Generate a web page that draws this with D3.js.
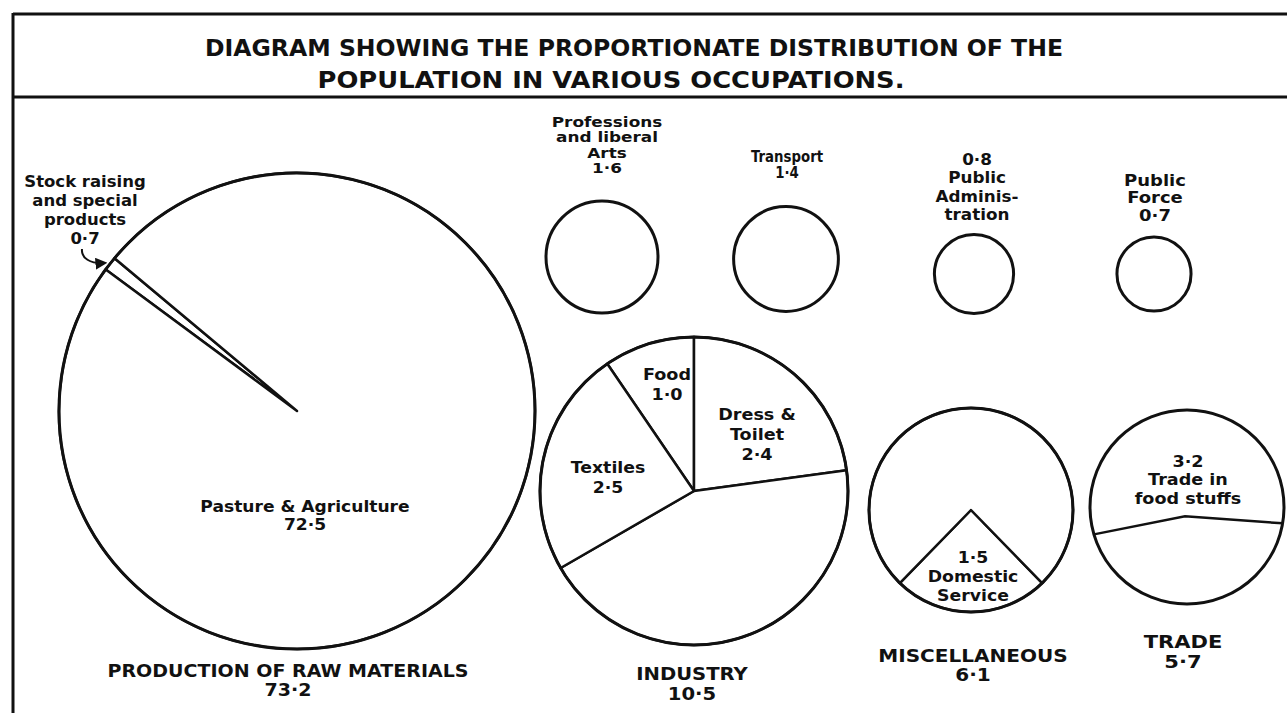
<!DOCTYPE html>
<html>
<head>
<meta charset="utf-8">
<script src="https://cdn.jsdelivr.net/npm/d3@7"></script>
<style>
body { margin: 0; background: #fff; }
text { font-family: "DejaVu Sans", sans-serif; font-weight: bold; fill: #111; }
</style>
</head>
<body>
<script>
// data (percent of population)
const rawLabels = ["Stock raising and special products", "Pasture & Agriculture"];
const rawValues = [0.7, 72.5];
const industryLabels = ["Food", "Dress & Toilet", "Other", "Textiles"];
const industryValues = [1.0, 2.4, 4.6, 2.5];
const miscLabels = ["Domestic Service", "Other"];
const miscValues = [1.5, 4.6];
const tradeLabels = ["Trade in food stuffs", "Other"];
const tradeValues = [3.2, 2.5];
const minorLabels = ["Professions and liberal Arts", "Transport", "Public Administration", "Public Force"];
const minorValues = [1.6, 1.4, 0.8, 0.7];
const groupLabels = ["PRODUCTION OF RAW MATERIALS", "INDUSTRY", "MISCELLANEOUS", "TRADE"];
const groupValues = [73.2, 10.5, 6.1, 5.7];

var width = 1287, height = 713;
var fmt = function(v){ return d3.format(".1f")(v).replace(".", "·"); };
var deg = Math.PI / 180;

var svg = d3.select("body").append("svg")
  .attr("width", width).attr("height", height)
  .style("background", "#fff");

// frame
svg.append("line").attr("x1", 13).attr("x2", width).attr("y1", 14).attr("y2", 14)
  .attr("stroke", "#111").attr("stroke-width", 3);
svg.append("line").attr("x1", 13).attr("x2", width).attr("y1", 97).attr("y2", 97)
  .attr("stroke", "#111").attr("stroke-width", 3);
svg.append("line").attr("x1", 13).attr("x2", 13).attr("y1", 13).attr("y2", height)
  .attr("stroke", "#111").attr("stroke-width", 3);

svg.append("text").attr("x", 634).attr("y", 56).attr("text-anchor", "middle")
  .attr("textLength", 858).attr("lengthAdjust", "spacingAndGlyphs")
  .style("font-size", "23px").text("DIAGRAM SHOWING THE PROPORTIONATE DISTRIBUTION OF THE");
svg.append("text").attr("x", 611).attr("y", 88).attr("text-anchor", "middle")
  .attr("textLength", 587).attr("lengthAdjust", "spacingAndGlyphs")
  .style("font-size", "23px").text("POPULATION IN VARIOUS OCCUPATIONS.");

// pies
function drawPie(values, cx, cy, r, start){
  var pie = d3.pie().sort(null).startAngle(start).endAngle(start + 2 * Math.PI);
  var arc = d3.arc().innerRadius(0).outerRadius(r);
  var g = svg.append("g").attr("transform", "translate(" + cx + "," + cy + ")");
  g.selectAll("path").data(pie(values)).enter().append("path")
    .attr("d", arc).attr("fill", "#fff").attr("stroke", "#111")
    .attr("stroke-width", 2.5).attr("stroke-linejoin", "round");
  g.append("circle").attr("r", r).attr("fill", "none").attr("stroke", "#111").attr("stroke-width", 3);
  return g;
}

drawPie(rawValues, 297, 411, 238, -53.5 * deg);
drawPie(industryValues, 694, 491, 154, -industryValues[0] / d3.sum(industryValues) * 2 * Math.PI);
var miscHalf = miscValues[0] / d3.sum(miscValues) * Math.PI;
drawPie(miscValues, 971, 510, 102, Math.PI - miscHalf);

// trade: circle split by a chord so the upper part holds the food share
var tcx = 1187, tcy = 507, tr = 97;
var tf = tradeValues[0] / d3.sum(tradeValues);
var lo = 0, hi = 1;
for (var i = 0; i < 40; i++) {
  var t = (lo + hi) / 2;
  var f = 0.5 + (t * Math.sqrt(1 - t * t) + Math.asin(t)) / Math.PI;
  if (f < tf) lo = t; else hi = t;
}
var td = lo * tr;
var tg = svg.append("g").attr("transform", "translate(" + tcx + "," + tcy + ")");
tg.append("circle").attr("r", tr).attr("fill", "#fff").attr("stroke", "#111").attr("stroke-width", 3);
var yl = td + 18, yr = td + 7;
tg.append("path")
  .attr("d", d3.line()([[-Math.sqrt(tr * tr - yl * yl), yl], [-2, td], [Math.sqrt(tr * tr - yr * yr), yr]]))
  .attr("fill", "none").attr("stroke", "#111").attr("stroke-width", 2.5);

// minor occupations: plain circles, area by value
var rScale = d3.scaleSqrt().domain([0, d3.max(minorValues)]).range([0, 56]);
var minorCx = [602, 786, 974, 1154], minorCy = [257, 259, 274, 274];
svg.selectAll(".minor").data(minorValues).enter().append("circle")
  .attr("class", "minor")
  .attr("cx", function(d, i){ return minorCx[i]; })
  .attr("cy", function(d, i){ return minorCy[i]; })
  .attr("r", function(d){ return rScale(d); })
  .attr("fill", "#fff").attr("stroke", "#111").attr("stroke-width", 3);

// labels (sx widens the glyphs like the heavy original type)
var labels = [
  {lines: ["Stock raising", "and special", "products", fmt(rawValues[0])], x: 85, y: 187, size: 15, lh: 19, sx: 1.1},
  {lines: ["Pasture & Agriculture", fmt(rawValues[1])], x: 305, y: 512, size: 16, lh: 18, sx: 1.07},
  {lines: [groupLabels[0], fmt(groupValues[0])], x: 288, y: 677, size: 17, lh: 19, sx: 1.12},
  {lines: ["Professions", "and liberal", "Arts", fmt(minorValues[0])], x: 607, y: 127, size: 13.5, lh: 15.5, sx: 1.25},
  {lines: [minorLabels[1], fmt(minorValues[1])], x: 787, y: 162, size: 15.5, lh: 16, sx: 0.86},
  {lines: [fmt(minorValues[2]), "Public", "Adminis-", "tration"], x: 977, y: 165, size: 15, lh: 18.5, sx: 1.12},
  {lines: ["Public", "Force", fmt(minorValues[3])], x: 1155, y: 186, size: 15, lh: 17.5, sx: 1.2},
  {lines: [industryLabels[0], fmt(industryValues[0])], x: 667, y: 380, size: 16, lh: 20, sx: 1.1},
  {lines: ["Dress &", "Toilet", fmt(industryValues[1])], x: 757, y: 420, size: 16, lh: 20, sx: 1.1},
  {lines: [industryLabels[3], fmt(industryValues[3])], x: 608, y: 473, size: 16, lh: 20, sx: 1.08},
  {lines: [groupLabels[1], fmt(groupValues[1])], x: 692, y: 680, size: 18, lh: 20, sx: 1.09},
  {lines: [fmt(miscValues[0]), "Domestic", "Service"], x: 973, y: 563, size: 16, lh: 19, sx: 1.08},
  {lines: [groupLabels[2], fmt(groupValues[2])], x: 973, y: 662, size: 17, lh: 19.5, sx: 1.18},
  {lines: [fmt(tradeValues[0]), "Trade in", "food stuffs"], x: 1188, y: 467, size: 16, lh: 18.5, sx: 1.1},
  {lines: [groupLabels[3], fmt(groupValues[3])], x: 1183, y: 648, size: 18, lh: 20, sx: 1.17}
];

labels.forEach(function(l){
  var txt = svg.append("text").attr("text-anchor", "middle")
    .attr("transform", "translate(" + l.x + ",0) scale(" + l.sx + ",1)")
    .style("font-size", l.size + "px");
  l.lines.forEach(function(s, i){
    txt.append("tspan").attr("x", 0).attr("y", l.y + i * l.lh).text(s);
  });
});

// arrow to the stock raising sliver
svg.append("defs").append("marker").attr("id", "head")
  .attr("viewBox", "0 0 10 10").attr("refX", 8).attr("refY", 5)
  .attr("markerWidth", 6).attr("markerHeight", 6).attr("orient", "auto")
  .append("path").attr("d", "M0,0L10,5L0,10Z").attr("fill", "#111");
svg.append("path").attr("d", "M82,249C81,258 90,264 105,263")
  .attr("fill", "none").attr("stroke", "#111").attr("stroke-width", 2)
  .attr("marker-end", "url(#head)");
</script>
</body>
</html>
